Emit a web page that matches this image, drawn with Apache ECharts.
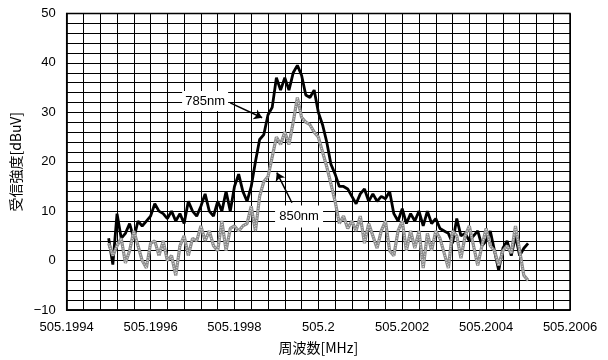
<!DOCTYPE html>
<html><head><meta charset="utf-8">
<script src="https://cdn.jsdelivr.net/npm/echarts@6/dist/echarts.min.js"></script>
<style>html,body{margin:0;padding:0;background:#fff}#c{width:608px;height:360px}</style>
</head><body><div id="c"></div>
<script>
// Frequencies (MHz) of the samples
const freqs = [
505.1995,505.19951,505.19952,505.19953,505.19954,505.19955,505.19956,505.19957,505.19958,505.19959,
505.1996,505.19961,505.19962,505.19963,505.19964,505.19965,505.19966,505.19967,505.19968,505.19969,
505.1997,505.19971,505.19972,505.19973,505.19974,505.19975,505.19976,505.19977,505.19978,505.19979,
505.1998,505.19981,505.19982,505.19983,505.19984,505.19985,505.19986,505.19987,505.19988,505.19989,
505.1999,505.19991,505.19992,505.19993,505.19994,505.19995,505.19996,505.19997,505.19998,505.19999,
505.2,505.20001,505.20002,505.20003,505.20004,505.20005,505.20006,505.20007,505.20008,505.20009,
505.2001,505.20011,505.20012,505.20013,505.20014,505.20015,505.20016,505.20017,505.20018,505.20019,
505.2002,505.20021,505.20022,505.20023,505.20024,505.20025,505.20026,505.20027,505.20028,505.20029,
505.2003,505.20031,505.20032,505.20033,505.20034,505.20035,505.20036,505.20037,505.20038,505.20039,
505.2004,505.20041,505.20042,505.20043,505.20044,505.20045,505.20046,505.20047,505.20048,505.20049,
505.2005];
// Received level (dBuV), 785nm
const s785 = [
4.5,-0.8,9.5,4.5,5.5,7.5,4.5,8,7,8,
9,11.5,10,9.5,8.5,10,8,9.5,7.5,12,
10,9,11,13.5,10,9,12,10,14,10,
15,17.5,14,12,15,20,24.5,25.5,29.5,31,
37,34.5,37,34.5,38,39.5,37.5,33.5,33,34.5,
30,27.5,24,19.5,17.5,15,15,14.5,13,11.5,
13.5,14.5,12,13.5,12,13,12.5,14,9.5,8,
10.5,7.5,9.5,8,10,7,10,7.5,8.5,6.5,
6,5.5,3.5,8.5,5,5.5,4,5,6,3,
4,6,2,-2,2.5,4,1,5,1,2.5,
3.5];
// Received level (dBuV), 850nm
const s850 = [
3.5,1,3,4.5,-0.5,2,6,3,0,-1.5,
3.5,4,1,4,0,1,-3,3,5,1,
4.5,4,7,4,6,3,2,8,2,6.5,
7,6,7,7.5,11,6,13,16,17,21,
25,23.5,26,23.5,28,33,29,28,27.5,26,
25,22,19,15.5,12,7.5,9,6.5,8,6,
9,3.5,7.5,5,2.5,6,8,2,1,6,
8,2,6,2.5,6,-1.5,5.5,2,6,4.5,
1.5,-1.5,6,5,0.5,5,7,3,-1,3,
6.5,3,2,-1,2,3,1.5,7,2,-3,
-4];
// Axis settings
const xMin = 505.1994, xMax = 505.2006, xStep = 0.0002;
const yMin = -10, yMax = 50, yStep = 10;
// Annotations (data coordinates)
const label785 = [505.19973, 32.3];
const arrow785 = [[505.19979, 31.9], [505.199866, 28.9]];
const label850 = [505.199954, 8.9];
const arrow850 = [[505.199937, 11.7], [505.199901, 17.8]];

const pair = ys => freqs.map((f, i) => [f, ys[i]]);
const numFont = 'Liberation Sans';
const cjkFont = 'Noto Sans CJK JP';

const chart = echarts.init(document.getElementById('c'), null, {renderer: 'canvas'});
const gridLine = {show: true, lineStyle: {color: '#000', width: 1, type: 'solid'}};
chart.setOption({
  animation: false,
  backgroundColor: '#fff',
  grid: {left: 66.7, right: 38, top: 13.5, bottom: 49.3, show: true, borderColor: '#000', borderWidth: 1.5},
  xAxis: {
    type: 'value', min: xMin, max: xMax, interval: xStep,
    name: '周波数[MHz]', nameLocation: 'middle', nameGap: 31,
    nameTextStyle: {fontFamily: cjkFont, fontSize: 14, color: '#000'},
    axisLine: {onZero: false, lineStyle: {color: '#000', width: 1.5}},
    axisTick: {show: true, inside: true, length: 3, lineStyle: {color: '#000'}},
    axisLabel: {formatter: v => String(parseFloat(v.toFixed(4))), margin: 11, fontFamily: numFont, fontSize: 13, color: '#000'},
    splitLine: gridLine,
    minorTick: {show: true, splitNumber: 5, length: 0},
    minorSplitLine: gridLine
  },
  yAxis: {
    type: 'value', min: yMin, max: yMax, interval: yStep,
    name: '受信強度[dBuV]', nameLocation: 'middle', nameGap: 39, nameRotate: 90,
    nameTextStyle: {fontFamily: cjkFont, fontSize: 14, color: '#000'},
    axisLine: {show: true, onZero: false, lineStyle: {color: '#000', width: 1.5}},
    axisTick: {show: false},
    axisLabel: {formatter: v => String(v).replace('-', '\u2212'), margin: 11, fontFamily: numFont, fontSize: 13, color: '#000'},
    splitLine: gridLine,
    minorTick: {show: true, splitNumber: 5, length: 0},
    minorSplitLine: gridLine
  },
  series: [
    {
      name: '785nm', type: 'line', data: pair(s785), symbol: 'none', z: 3,
      lineStyle: {color: '#000', width: 2.8},
      markLine: {
        silent: true, symbol: ['none', 'arrow'], symbolSize: 8,
        lineStyle: {color: '#000', width: 1.5, type: 'solid'}, label: {show: false},
        data: [
          [{coord: arrow785[0]}, {coord: arrow785[1]}],
          [{coord: arrow850[0]}, {coord: arrow850[1]}]
        ]
      },
      markPoint: {
        silent: true, symbol: 'rect',
        itemStyle: {color: '#fff'},
        label: {show: true, position: 'inside', color: '#000', fontFamily: numFont, fontSize: 13, formatter: p => p.name},
        data: [
          {name: '785nm', coord: label785, symbolSize: [46, 20]},
          {name: '850nm', coord: label850, symbolSize: [48, 22]}
        ]
      }
    },
    {
      name: '850nm', type: 'line', data: pair(s850), symbol: 'none', z: 4,
      lineStyle: {color: '#8a8a8a', width: 3.2}
    },
    {
      name: '850nm-tex', type: 'line', data: pair(s850), symbol: 'none', z: 5,
      lineStyle: {color: '#dcdcdc', width: 1.2, type: [1, 1.5]}
    }
  ]
});
</script>
</body></html>
